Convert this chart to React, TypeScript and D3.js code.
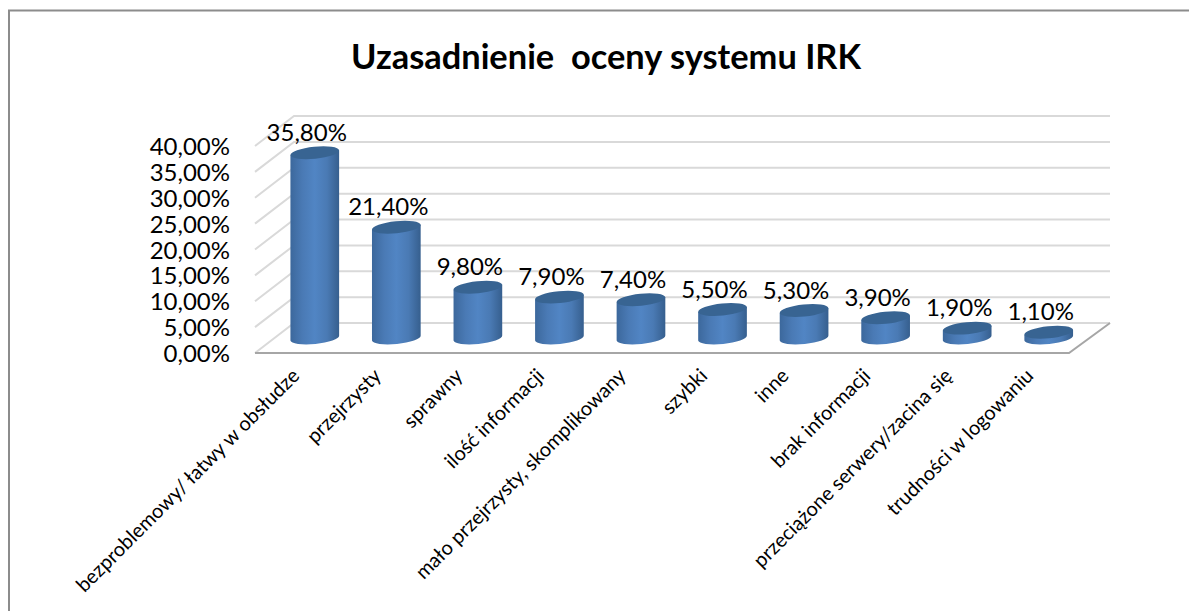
import React from 'react';
import * as d3 from 'd3';

const categories = [
  'bezproblemowy/ łatwy w obsłudze',
  'przejrzysty',
  'sprawny',
  'ilość informacji',
  'mało przejrzysty, skomplikowany',
  'szybki',
  'inne',
  'brak informacji',
  'przeciążone serwery/zacina się',
  'trudności w logowaniu',
];
const values = [35.8, 21.4, 9.8, 7.9, 7.4, 5.5, 5.3, 3.9, 1.9, 1.1];
const valueLabels = ['35,80%', '21,40%', '9,80%', '7,90%', '7,40%', '5,50%', '5,30%', '3,90%', '1,90%', '1,10%'];
const ticks = [0, 5, 10, 15, 20, 25, 30, 35, 40];
const tickLabels = ['0,00%', '5,00%', '10,00%', '15,00%', '20,00%', '25,00%', '30,00%', '35,00%', '40,00%'];

const width = 1189;
const height = 611;
const font = 'Lato, sans-serif';

// back wall and floor of the fake 3D box
const backLeft = 294;
const backRight = 1110;
const frontLeft = 255;
const frontRight = 1069;
const depth = 30;

const yBack = d3.scaleLinear().domain([0, 40]).range([323, 116]);
const yBar = d3.scaleLinear().domain([0, 40]).range([338, 131]);
const x = d3.scaleBand<string>().domain(categories).range([274, 1089.5]).paddingInner(0.4).paddingOuter(0.2);

// tilted ellipse as two arcs
const ellipse = (cx: number, cy: number, rx: number, ry: number) => {
  const dx = rx * Math.cos(0.1);
  const dy = rx * Math.sin(0.1);
  return `M${cx - dx},${cy + dy}A${rx},${ry} -5.7 1 1 ${cx + dx},${cy - dy}A${rx},${ry} -5.7 1 1 ${cx - dx},${cy + dy}Z`;
};

// cylinder side: top ellipse's lower half is covered by the cap, bottom bulges down
const side = (cx: number, top: number, base: number, rx: number, ry: number) => {
  const dx = rx * Math.cos(0.1);
  const dy = rx * Math.sin(0.1);
  return `M${cx - dx},${top + dy}L${cx - dx},${base + dy}A${rx},${ry} -5.7 0 0 ${cx + dx},${base - dy}L${cx + dx},${top - dy}Z`;
};

export default function App() {
  const rx = x.bandwidth() / 2;
  const ry = 6;
  return (
    <svg width={width} height={height} style={{ position: 'absolute', left: 0, top: 0, background: '#fff' }}>
      <defs>
        <linearGradient id="cyl" x1="0" x2="1" y1="0" y2="0">
          <stop offset="0" stopColor="#3c689c" />
          <stop offset="0.25" stopColor="#4a7ab5" />
          <stop offset="0.5" stopColor="#5185c4" />
          <stop offset="0.75" stopColor="#4a7ab4" />
          <stop offset="1" stopColor="#365f8e" />
        </linearGradient>
      </defs>

      <path d={`M9,${height}V10.5H${width}`} fill="none" stroke="#8c8c8c" strokeWidth={2} />

      <text x={606} y={69} textAnchor="middle" fontFamily={font} fontSize={34.4} fontWeight={700} xmlSpace="preserve">
        Uzasadnienie  oceny systemu IRK
      </text>

      {ticks.map((t) => (
        <path
          key={t}
          d={`M${frontLeft},${yBack(t) + depth}L${backLeft},${yBack(t)}H${backRight}`}
          fill="none"
          stroke="#d9d9d9"
          strokeWidth={2}
        />
      ))}
      <path
        d={`M${frontLeft},${yBack(0) + depth}H${frontRight}L${backRight},${yBack(0)}`}
        fill="none"
        stroke="#a6a6a6"
        strokeWidth={2}
      />

      {ticks.map((t, i) => (
        <text key={t} x={230} y={yBack(t) + depth + 9} textAnchor="end" fontFamily={font} fontSize={24}>
          {tickLabels[i]}
        </text>
      ))}

      {categories.map((c, i) => {
        const cx = x(c)! + rx;
        const top = yBar(values[i]);
        const base = yBar(0);
        return (
          <g key={c}>
            <path d={side(cx, top, base, rx, ry)} fill="url(#cyl)" />
            <path d={ellipse(cx, top, rx, ry)} fill="#386492" />
            <text x={cx - 8} y={top - 12} textAnchor="middle" fontFamily={font} fontSize={24}>
              {valueLabels[i]}
            </text>
            <text
              transform={`translate(${cx - 14},${377}) rotate(-45)`}
              textAnchor="end"
              fontFamily={font}
              fontSize={20}
            >
              {c}
            </text>
          </g>
        );
      })}
    </svg>
  );
}
